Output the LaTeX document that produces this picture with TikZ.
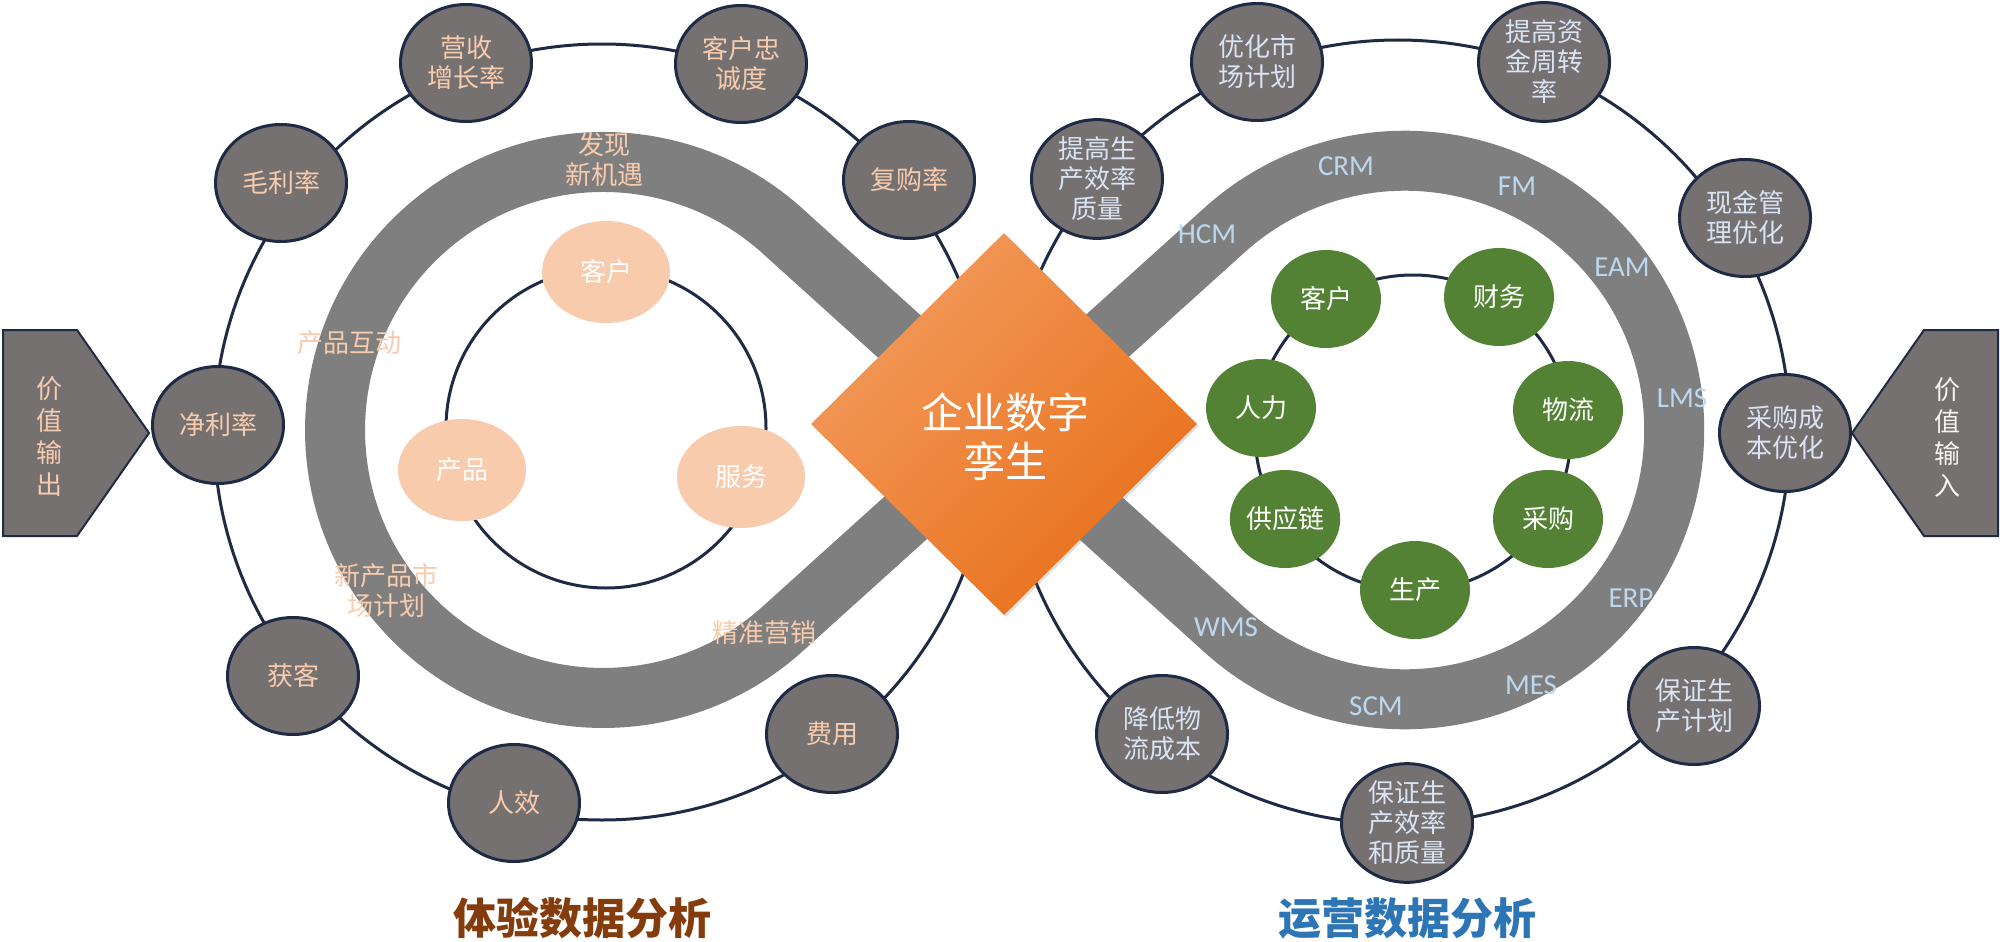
\documentclass[tikz,border=0pt]{standalone}
\usepackage{fontspec}
\setmainfont{Noto Sans CJK SC}
\newfontfamily\lat{Carlito}
\usetikzlibrary{shapes.geometric,shadows}
\definecolor{gfill}{HTML}{767171}
\definecolor{navy}{HTML}{1F2A44}
\definecolor{bandgray}{HTML}{7F7F7F}
\definecolor{peach}{HTML}{F8CBAD}
\definecolor{grn}{HTML}{548235}
\definecolor{lbtext}{HTML}{DAE3F3}
\definecolor{lblab}{HTML}{BDD7EE}
\definecolor{brn}{HTML}{843C0C}
\definecolor{blu}{HTML}{2E75B6}
\definecolor{orA}{HTML}{F39A5C}
\definecolor{orB}{HTML}{E8701A}
\begin{document}
\begin{tikzpicture}[x=1pt,y=-1pt,
  onode/.style={ellipse, draw=navy, line width=3pt, fill=gfill, minimum width=131pt, minimum height=117pt, inner sep=0pt, align=center, font=\fontsize{26}{30}\selectfont},
  lnode/.style={onode, text=peach},
  rnode/.style={onode, text=lbtext},
  pnode/.style={ellipse, fill=peach, minimum width=128pt, minimum height=102pt, inner sep=0pt, text=white, font=\fontsize{26}{30}\selectfont},
  gnode/.style={ellipse, fill=grn, minimum width=110pt, minimum height=98pt, inner sep=0pt, text=white, font=\fontsize{26}{30}\selectfont},
  ringline/.style={draw=navy, line width=3pt},
  bandlab/.style={text=peach, align=center, font=\fontsize{26}{30}\selectfont, inner sep=0pt},
  syslab/.style={text=lblab, font=\lat\fontsize{29}{32}\selectfont, inner sep=0pt},
  penta/.style={fill=gfill, draw=navy, line width=2pt, line join=miter},
  vtext/.style={align=center, inner sep=0pt, font=\fontsize{26}{32}\selectfont},
  title/.style={inner sep=0pt, font=\bfseries\fontsize{43}{50}\selectfont},
]
\useasboundingbox (0,0) rectangle (2000,942);

% infinity band
\draw[draw=bandgray, line width=60pt, line join=round]
  (782.6,231.1) -- (1224.5,629.9)
  arc[start angle=132.07, end angle=-132.07, radius=269.3]
  -- (782.6,628.9)
  arc[start angle=47.93, end angle=312.07, radius=268] -- cycle;

% rings
\coordinate (lc) at (602,432);
\coordinate (rc) at (1398,432);
\coordinate (lic) at (606,428);
\coordinate (ric) at (1413,433);
\draw[ringline] (lc) circle[radius=388];
\draw[ringline] (rc) circle[radius=392];
\draw[ringline] (lic) circle[radius=160];
\draw[ringline] (ric) circle[radius=158];

% center diamond
\node[diamond, minimum width=386pt, minimum height=382pt, inner sep=0pt,
  top color=orA, bottom color=orB, shading angle=45,
  drop shadow={opacity=0.25, shadow xshift=2pt, shadow yshift=-2pt}] (dm) at (1004,424) {};
\node[text=white, align=center, inner sep=0pt, font=\fontsize{42}{49}\selectfont] (dmt) at (1005,437) {企业数字\\孪生};

% left outer nodes
\node[lnode] (yszz) at (466,63) {营收\\增长率};
\node[lnode] (khzc) at (741,64) {客户忠\\诚度};
\node[lnode] (mll) at (281,183) {毛利率};
\node[lnode] (fgl) at (909,180) {复购率};
\node[lnode] (jll) at (218,425) {净利率};
\node[lnode] (hk) at (293,676) {获客};
\node[lnode] (rx) at (514,803) {人效};
\node[lnode] (fy) at (832,734) {费用};

% right outer nodes
\node[rnode] (yhsc) at (1257,62) {优化市\\场计划};
\node[rnode] (tgzj) at (1544,62) {提高资\\金周转\\率};
\node[rnode] (tgsc) at (1097,179) {提高生\\产效率\\质量};
\node[rnode] (xjgl) at (1745,218) {现金管\\理优化};
\node[rnode] (cgcb) at (1785,433) {采购成\\本优化};
\node[rnode] (bzjh) at (1694,706) {保证生\\产计划};
\node[rnode] (bzxl) at (1407,823) {保证生\\产效率\\和质量};
\node[rnode] (jdwl) at (1162,734) {降低物\\流成本};

% left inner nodes
\node[pnode] (kh) at (606,272) {客户};
\node[pnode] (cp) at (462,470) {产品};
\node[pnode] (fw) at (741,477) {服务};

% right inner nodes
\node[gnode] (gkh) at (1326,299) {客户};
\node[gnode] (gcw) at (1499,297) {财务};
\node[gnode] (grl) at (1261,408) {人力};
\node[gnode] (gwl) at (1568,410) {物流};
\node[gnode] (ggyl) at (1285,519) {供应链};
\node[gnode] (gcg) at (1548,519) {采购};
\node[gnode] (gsc) at (1415,590) {生产};

% left band labels
\node[bandlab] (fx) at (604,160) {发现\\新机遇};
\node[bandlab] (cphd) at (349,343) {产品互动};
\node[bandlab] (xcp) at (386,591) {新产品市\\场计划};
\node[bandlab] (jzyx) at (764,633) {精准营销};

% right band labels
\node[syslab] (crm) at (1346,166) {CRM};
\node[syslab] (fm) at (1517,186) {FM};
\node[syslab] (hcm) at (1207,234) {HCM};
\node[syslab] (eam) at (1622,267) {EAM};
\node[syslab] (lms) at (1682,398) {LMS};
\node[syslab] (erp) at (1631,598) {ERP};
\node[syslab] (mes) at (1531,685) {MES};
\node[syslab] (scm) at (1376,706) {SCM};
\node[syslab] (wms) at (1226,627) {WMS};

% value pentagons
\draw[penta] (3,330) -- (77,330) -- (149,433) -- (77,536) -- (3,536) -- cycle;
\draw[penta] (1998,330) -- (1924,330) -- (1852,433) -- (1924,536) -- (1998,536) -- cycle;
\node[vtext, text=peach] (vo) at (49,437) {价\\值\\输\\出};
\node[vtext, text=white!92!gray] (vi) at (1947,437) {价\\值\\输\\入};

% titles
\node[title, text=brn] (t1) at (582,918) {体验数据分析};
\node[title, text=blu] (t2) at (1407,918) {运营数据分析};
\end{tikzpicture}
\end{document}
